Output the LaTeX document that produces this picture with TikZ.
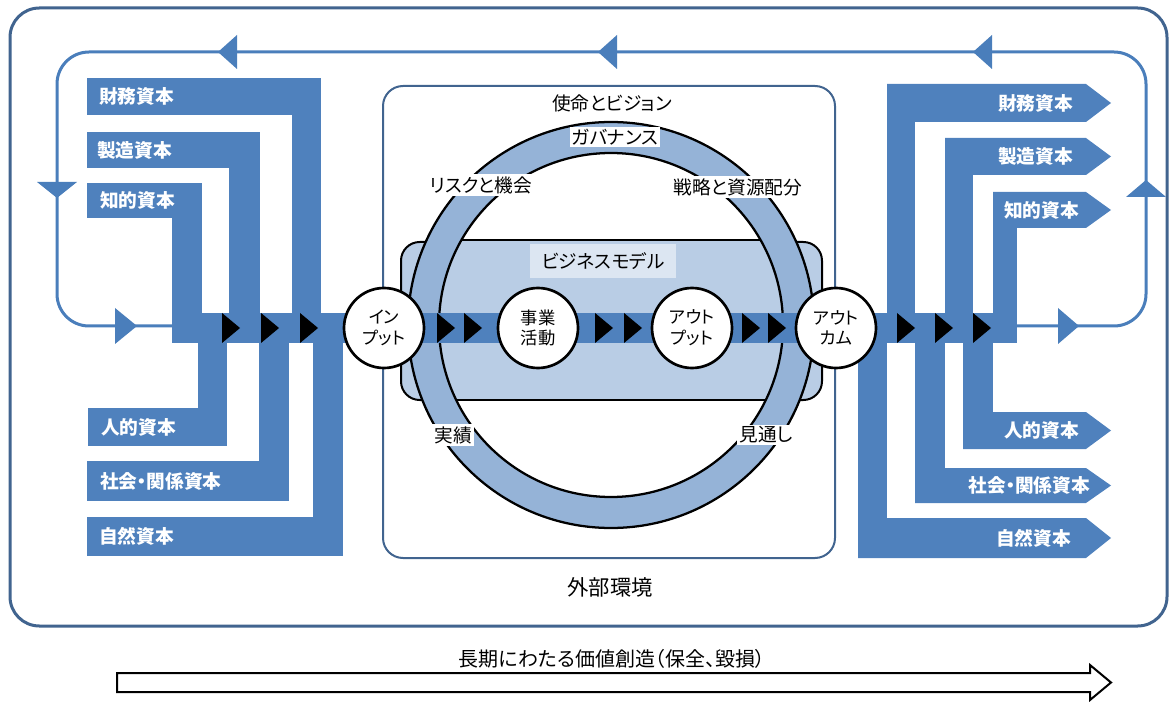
\documentclass[tikz,border=0pt]{standalone}
\usepackage{fontspec}
\setmainfont{Noto Sans CJK JP}[RawFeature=+palt]
\definecolor{capblue}{HTML}{4F81BD}
\definecolor{ringblue}{HTML}{95B3D7}
\definecolor{bmblue}{HTML}{B9CDE5}
\definecolor{lblbox}{HTML}{DCE6F2}
\definecolor{framec}{HTML}{41648F}
\definecolor{loopc}{HTML}{4A7EBB}
\begin{document}
\begin{tikzpicture}[x=0.75pt,y=0.75pt,yscale=-1,
  capfill/.style={fill=capblue},
  caplbl/.style={text=white,font=\bfseries\fontsize{14}{16}\selectfont,inner sep=0pt},
  lbl/.style={font=\fontsize{14}{16}\selectfont,inner sep=1.5pt},
  wlbl/.style={lbl,fill=white},
  stage/.style={circle,draw=black,line width=2pt,fill=white,minimum size=60pt,inner sep=0pt,align=center,font=\fontsize{13}{15.5}\selectfont},
  loopline/.style={draw=loopc,line width=2.25pt},
  looptip/.style={fill=loopc},
  flowband/.style={draw=capblue,line width=22.5pt}]
\useasboundingbox (0,0) rectangle (1171,702);
\newcommand\flowtri[1]{\fill[black] (#1,313) -- ++(18,15) -- ++(-18,15) -- cycle;}

% outer frame (external environment)
\draw[framec, line width=2.25pt, rounded corners=22pt] (10,8) rectangle (1167,626);

% feedback loop
\coordinate (loopR) at (1017,326);
\coordinate (loopL) at (172,326);
\draw[loopline, rounded corners=24pt] (loopR) -- (1146,326) -- (1146,52) -- (57,52) -- (57,326) -- (loopL);
\fill[looptip] (218,52) -- (237,35) -- (237,69) -- cycle;
\fill[looptip] (598,52) -- (617,35) -- (617,69) -- cycle;
\fill[looptip] (973,52) -- (992,35) -- (992,69) -- cycle;
\fill[looptip] (57,198) -- (37,182) -- (77,182) -- cycle;
\fill[looptip] (137,326) -- (115,308) -- (115,344) -- cycle;
\fill[looptip] (1079,326) -- (1058,308) -- (1058,344) -- cycle;
\fill[looptip] (1146,180) -- (1126,197) -- (1166,197) -- cycle;

% left capitals (inputs)
\fill[capfill] (87,78) rectangle (321,115);  \fill[capfill] (292,78) rectangle (321,313);
\fill[capfill] (87,132) rectangle (260,168); \fill[capfill] (229,132) rectangle (260,313);
\fill[capfill] (87,183) rectangle (202,218); \fill[capfill] (172,183) rectangle (202,313);
\fill[capfill] (88,408) rectangle (227,446); \fill[capfill] (198,343) rectangle (227,446);
\fill[capfill] (87,461) rectangle (289,501); \fill[capfill] (259,343) rectangle (289,501);
\fill[capfill] (87,517) rectangle (343,556); \fill[capfill] (313,343) rectangle (343,556);

% right capitals (outcomes)
\fill[capfill] (887,84) rectangle (915,313);
\fill[capfill] (887,84) -- (1086,84) -- (1111,103) -- (1086,122) -- (887,122) -- cycle;
\fill[capfill] (945,138) rectangle (973,313);
\fill[capfill] (945,138) -- (1086,138) -- (1111,156.5) -- (1086,175) -- (945,175) -- cycle;
\fill[capfill] (993,192) rectangle (1017,313);
\fill[capfill] (993,192) -- (1086,192) -- (1111,210) -- (1086,228) -- (993,228) -- cycle;
\fill[capfill] (963,343) rectangle (993,449);
\fill[capfill] (963,412) -- (1086,412) -- (1111,430.5) -- (1086,449) -- (963,449) -- cycle;
\fill[capfill] (915,343) rectangle (945,503);
\fill[capfill] (915,468) -- (1086,468) -- (1111,485.5) -- (1086,503) -- (915,503) -- cycle;
\fill[capfill] (858,343) rectangle (887,558);
\fill[capfill] (858,518) -- (1086,518) -- (1111,538) -- (1086,558) -- (858,558) -- cycle;

% organisation box
\draw[framec, line width=1.5pt, rounded corners=15pt] (383,86) rectangle (835,558);

% ears
\filldraw[fill=bmblue, draw=black, line width=1.5pt, rounded corners=14pt] (401,242) rectangle (822,400);
% ring
\fill[ringblue, even odd rule] (611,325) circle (203) (611,325) circle (172);
\begin{scope}
  \clip (611,325) circle (172);
  \fill[white] (400,100) rectangle (823,560);
  \fill[bmblue] (400,240) rectangle (823,400);
  \draw[line width=1.5pt] (400,240) -- (823,240) (400,400) -- (823,400);
\end{scope}
\draw[line width=1.7pt] (611,325) circle (203);
\draw[line width=1.7pt] (611,325) circle (172);

% labels in the organisation
\node[lbl] (mission) at (612,103) {使命とビジョン};
\node[wlbl] (gov) at (615,137) {ガバナンス};
\node[wlbl] (risk) at (481,185) {リスクと機会};
\node[wlbl] (strat) at (738,187) {戦略と資源配分};
\node[lbl, fill=lblbox, minimum width=109pt, minimum height=26pt] (bm) at (603,261) {ビジネスモデル};
\node[wlbl] (perf) at (453,435) {実績};
\node[wlbl] (outlook) at (766,435) {見通し};
\node[lbl, font=\fontsize{16}{18}\selectfont] (env) at (610,587) {外部環境};

% flow band
\coordinate (flowL) at (172,328);
\coordinate (flowR) at (1017,328);
\draw[flowband] (flowL) -- (flowR);
\flowtri{222}\flowtri{261}\flowtri{300}
\flowtri{437}\flowtri{464}
\flowtri{595}\flowtri{624}
\flowtri{742}\flowtri{768}
\flowtri{897}\flowtri{935}\flowtri{973}

% stages
\node[stage] (in) at (384,328) {イン\\プット};
\node[stage] (act) at (538,328) {事業\\活動};
\node[stage] (outp) at (692,328) {アウト\\プット};
\node[stage] (outc) at (836,328) {アウト\\カム};

% capital labels
\node[caplbl, anchor=west] (lfin) at (99,96.5) {財務資本};
\node[caplbl, anchor=west] (lman) at (97,150) {製造資本};
\node[caplbl, anchor=west] (lint) at (100,200.5) {知的資本};
\node[caplbl, anchor=west] (lhum) at (101,427) {人的資本};
\node[caplbl, anchor=west] (lsoc) at (100,481) {社会・関係資本};
\node[caplbl, anchor=west] (lnat) at (99,536.5) {自然資本};
\node[caplbl, anchor=east] (rfin) at (1073,103) {財務資本};
\node[caplbl, anchor=east] (rman) at (1073,156.5) {製造資本};
\node[caplbl, anchor=east] (rint) at (1079,210) {知的資本};
\node[caplbl, anchor=east] (rhum) at (1079,430.5) {人的資本};
\node[caplbl, anchor=east] (rsoc) at (1090,485.5) {社会・関係資本};
\node[caplbl, anchor=east] (rnat) at (1071,538) {自然資本};

% long-term arrow
\node[lbl, font=\fontsize{15}{17}\selectfont] (lt) at (612,659) {長期にわたる価値創造（保全、毀損）};
\coordinate (ltL) at (117,682.5);
\coordinate (ltR) at (1111,682.5);
\draw[line width=1.5pt, fill=white] (117,673) -- (1090,673) -- (1090,665) -- (ltR) -- (1090,700) -- (1090,692) -- (117,692) -- cycle;
\end{tikzpicture}
\end{document}
